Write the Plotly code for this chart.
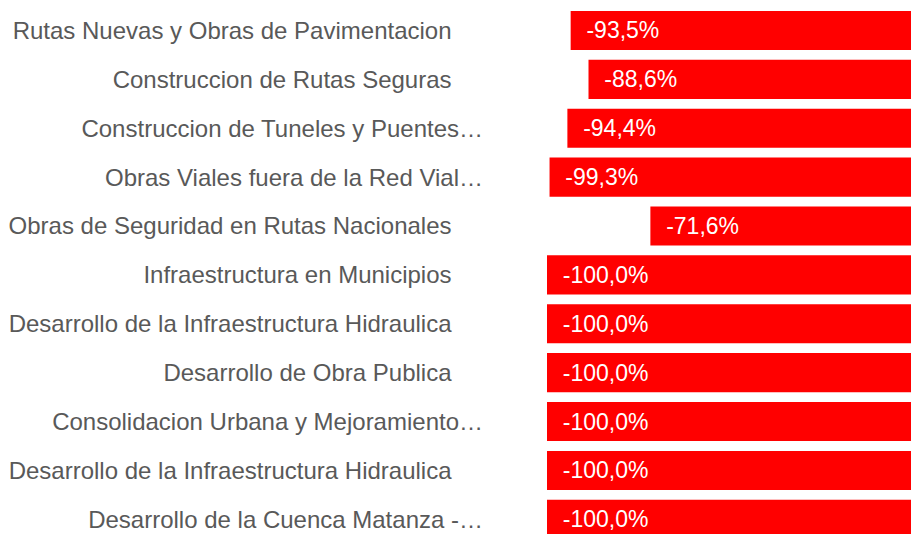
import plotly.graph_objects as go


# ==========================================================
# Data
# ==========================================================

programas = [
    "Rutas Nuevas y Obras de Pavimentacion",
    "Construccion de Rutas Seguras",
    "Construccion de Tuneles y Puentes…",
    "Obras Viales fuera de la Red Vial…",
    "Obras de Seguridad en Rutas Nacionales",
    "Infraestructura en Municipios",
    "Desarrollo de la Infraestructura Hidraulica",
    "Desarrollo de Obra Publica",
    "Consolidacion Urbana y Mejoramiento…",
    "Desarrollo de la Infraestructura Hidraulica",
    "Desarrollo de la Cuenca Matanza -…",
]

variacion = [-93.5, -88.6, -94.4, -99.3, -71.6, -100.0, -100.0, -100.0, -100.0, -100.0, -100.0]


# ==========================================================
# Chart
# ==========================================================

posiciones = list(range(len(programas)))

# labels without ellipsis sit a bit further left in the original
etiquetas = [p if p.endswith("…") else p + "\u00a0" * 4 + "\u2009" for p in programas]

fig = go.Figure(
    go.Bar(
        x=variacion,
        y=posiciones,
        orientation="h",
        marker=dict(color="#FF0000", line=dict(width=0)),
        texttemplate="\u00a0\u00a0%{x:.1f}%",
        textposition="inside",
        insidetextanchor="end",
        textangle=0,
        constraintext="none",
        textfont=dict(family="Liberation Sans, Arial", size=23, color="white"),
        hoverinfo="skip",
    )
)

fig.update_layout(
    width=911,
    height=534,
    separators=",.",
    bargap=0.2,
    showlegend=False,
    plot_bgcolor="white",
    paper_bgcolor="white",
    margin=dict(l=547, r=0, t=6, b=0),
    xaxis=dict(
        range=[-100, 0],
        visible=False,
        fixedrange=True,
    ),
    yaxis=dict(
        # bottom bar is cut by the lower edge, like in the original
        range=[10.3, -0.5],
        tickmode="array",
        tickvals=posiciones,
        ticktext=etiquetas,
        showgrid=False,
        zeroline=False,
        showline=False,
        ticks="",
        ticklabelstandoff=63,
        tickfont=dict(family="Liberation Sans, Arial", size=24, color="#595959"),
        fixedrange=True,
    ),
)

# drop the default page margin so the figure fills the window exactly
fig.write_html(
    "out.html",
    config={"displayModeBar": False},
    post_script="document.body.style.margin='0px'; document.body.style.overflow='hidden';",
)
